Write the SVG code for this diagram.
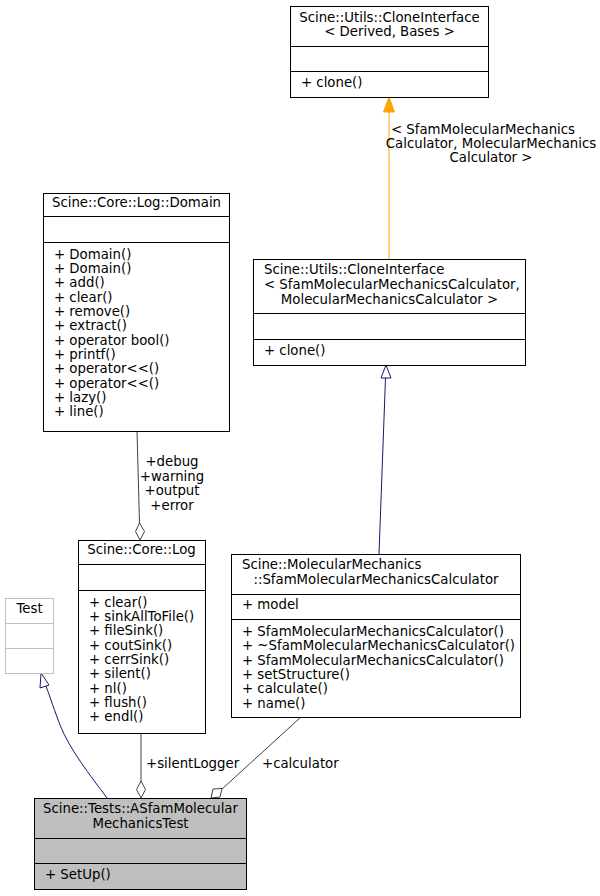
<svg xmlns="http://www.w3.org/2000/svg" width="600" height="896" viewBox="0 0 600 896">
<style>
text{font-family:"DejaVu Sans",sans-serif;font-size:13.3px;fill:#000}
.b{fill:#fff;stroke:#000;stroke-width:1}
.g{fill:#fff;stroke:#bfbfbf;stroke-width:1}
.d{stroke:#000;stroke-width:1}
.dg{stroke:#bfbfbf;stroke-width:1}
.m{text-anchor:middle}
.e{fill:none;stroke:#404040;stroke-width:1}
</style>
<rect width="600" height="896" fill="#fff"/>
<g id="edges">
<path d="M389,259 V110" stroke="#ffa500" fill="none"/>
<polygon points="389,97 383.5,112 394.5,112" fill="#ffa500" stroke="#ffa500"/>
<text class="m" x="483" y="134">&lt; SfamMolecularMechanics</text>
<text class="m" x="491" y="148">Calculator, MolecularMechanics</text>
<text class="m" x="491" y="162">Calculator &gt;</text>
<path d="M379,554 L385.5,378" stroke="#191970" fill="none"/>
<polygon points="386,365 381,378 391,378" fill="#fff" stroke="#191970"/>
<path d="M137,431 L139.5,523" class="e"/>
<polygon points="140,540 135.5,531.5 139.5,523 144.5,531.5" fill="#fff" stroke="#404040"/>
<text class="m" x="172" y="466">+debug</text>
<text class="m" x="172" y="481">+warning</text>
<text class="m" x="172" y="495">+output</text>
<text class="m" x="172" y="510">+error</text>
<path d="M107,798 C90,775 70,750 60,725 C55,712 50,697 46,686" stroke="#191970" fill="none"/>
<polygon points="41,673 40,688 49,685" fill="#fff" stroke="#191970"/>
<path d="M141,733 V781" class="e"/>
<polygon points="141,798 136.5,789.5 141,781 145.5,789.5" fill="#fff" stroke="#404040"/>
<text x="146" y="768">+silentLogger</text>
<path d="M301,717 L222,789" class="e"/>
<polygon points="211,798 213,789 222,788.5 220,797" fill="#fff" stroke="#404040"/>
<text x="262" y="768">+calculator</text>
</g>
<g id="n_clone_base">
<rect class="b" x="290.5" y="6.5" width="198" height="91"/>
<text class="m" x="389.5" y="22">Scine::Utils::CloneInterface</text>
<text class="m" x="389.5" y="36">&lt; Derived, Bases &gt;</text>
<path class="d" d="M290.5,46.5H488.5M290.5,71.5H488.5"/>
<text x="301" y="87">+ clone()</text>
</g>
<g id="n_clone_spec">
<rect class="b" x="253.5" y="259.5" width="272" height="106"/>
<text x="264" y="274">Scine::Utils::CloneInterface</text>
<text x="264" y="289">&lt; SfamMolecularMechanicsCalculator,</text>
<text class="m" x="389.5" y="304">MolecularMechanicsCalculator &gt;</text>
<path class="d" d="M253.5,313.5H525.5M253.5,339.5H525.5"/>
<text x="264" y="355">+ clone()</text>
</g>
<g id="n_domain">
<rect class="b" x="43.5" y="193.5" width="186" height="238"/>
<text class="m" x="136.5" y="207">Scine::Core::Log::Domain</text>
<path class="d" d="M43.5,216.5H229.5M43.5,242.5H229.5"/>
<text x="54" y="259">+ Domain()</text>
<text x="54" y="273">+ Domain()</text>
<text x="54" y="287">+ add()</text>
<text x="54" y="302">+ clear()</text>
<text x="54" y="316">+ remove()</text>
<text x="54" y="330">+ extract()</text>
<text x="54" y="345">+ operator bool()</text>
<text x="54" y="359">+ printf()</text>
<text x="54" y="373">+ operator&lt;&lt;()</text>
<text x="54" y="388">+ operator&lt;&lt;()</text>
<text x="54" y="402">+ lazy()</text>
<text x="54" y="416">+ line()</text>
</g>
<g id="n_log">
<rect class="b" x="78.5" y="540.5" width="127" height="193"/>
<text class="m" x="141.5" y="554">Scine::Core::Log</text>
<path class="d" d="M78.5,564.5H205.5M78.5,590.5H205.5"/>
<text x="89" y="607">+ clear()</text>
<text x="89" y="621">+ sinkAllToFile()</text>
<text x="89" y="635">+ fileSink()</text>
<text x="89" y="650">+ coutSink()</text>
<text x="89" y="664">+ cerrSink()</text>
<text x="89" y="678">+ silent()</text>
<text x="89" y="693">+ nl()</text>
<text x="89" y="707">+ flush()</text>
<text x="89" y="721">+ endl()</text>
</g>
<g id="n_test">
<rect class="g" x="5.5" y="598.5" width="48" height="75"/>
<text class="m" x="29.5" y="613">Test</text>
<path class="dg" d="M5.5,623.5H53.5M5.5,648.5H53.5"/>
</g>
<g id="n_sfam">
<rect class="b" x="231.5" y="554.5" width="289" height="163"/>
<text x="242" y="569">Scine::MolecularMechanics</text>
<text class="m" x="376" y="584">::SfamMolecularMechanicsCalculator</text>
<path class="d" d="M231.5,594.5H520.5M231.5,619.5H520.5"/>
<text x="242" y="609">+ model</text>
<text x="242" y="636">+ SfamMolecularMechanicsCalculator()</text>
<text x="242" y="650">+ ~SfamMolecularMechanicsCalculator()</text>
<text x="242" y="665">+ SfamMolecularMechanicsCalculator()</text>
<text x="242" y="679">+ setStructure()</text>
<text x="242" y="693">+ calculate()</text>
<text x="242" y="708">+ name()</text>
</g>
<g id="n_main">
<rect x="34.5" y="798.5" width="212" height="91" fill="#bfbfbf" stroke="#000"/>
<text class="m" x="140.5" y="813">Scine::Tests::ASfamMolecular</text>
<text class="m" x="140.5" y="828">MechanicsTest</text>
<path class="d" d="M34.5,838.5H246.5M34.5,863.5H246.5"/>
<text x="45" y="879">+ SetUp()</text>
</g>
</svg>
